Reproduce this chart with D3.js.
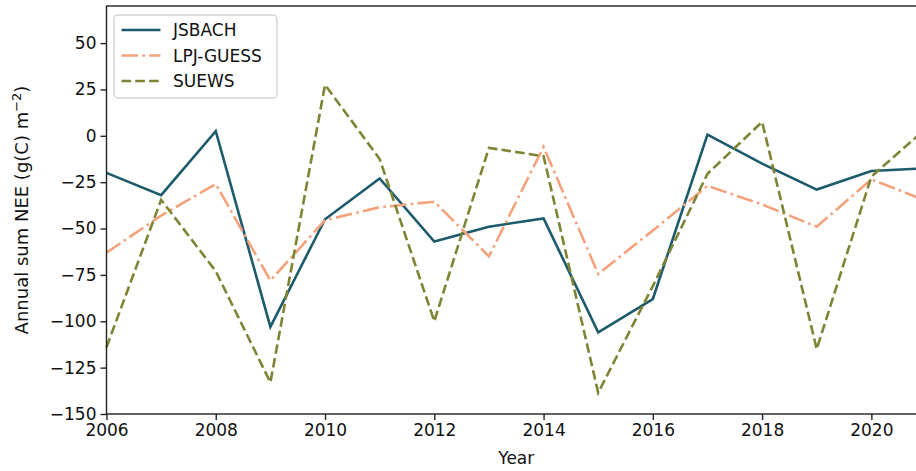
<!DOCTYPE html>
<html>
<head>
<meta charset="utf-8">
<script src="https://cdn.jsdelivr.net/npm/d3@7"></script>
<style>
  html, body { margin: 0; padding: 0; background: #fff; overflow: hidden; }
  text { font-family: "DejaVu Sans", sans-serif; fill: #111; }
</style>
</head>
<body>
<svg id="chart"></svg>
<script>
const years = [2006, 2007, 2008, 2009, 2010, 2011, 2012, 2013, 2014, 2015, 2016, 2017, 2018, 2019, 2020, 2021]
const jsbach = [-20, -32, 2.5, -103, -45, -23, -57, -49, -44.5, -106, -88, 0.7, -15, -29, -19, -17.5]
const lpjGuess = [-63, -43, -26, -78, -45.5, -38.5, -35.5, -65, -6, -74.5, -51, -27, -37, -49, -23.5, -35]
const suews = [-114, -34.5, -73, -133, 27.5, -12.5, -100, -6.5, -11, -138.5, -81, -20.5, 7.5, -115, -22, 4]
const yTicks = [-150, -125, -100, -75, -50, -25, 0, 25, 50]
const xTicks = [2006, 2008, 2010, 2012, 2014, 2016, 2018, 2020]
const seriesNames = ['JSBACH', 'LPJ-GUESS', 'SUEWS']

const W = 960, H = 471
const margin = { top: 6, right: 34, bottom: 57, left: 106.5 }
const fs = 17

const svg = d3.select('#chart').attr('width', W).attr('height', H)

const x = d3.scaleLinear().domain([2006, 2021]).range([margin.left, W - margin.right])
const y = d3.scaleLinear().domain([-150, 70]).range([H - margin.bottom, margin.top])

const series = [
  { name: seriesNames[0], values: jsbach, color: '#1c5a6c', dash: null },
  { name: seriesNames[1], values: lpjGuess, color: '#f4a27c', dash: '16.7,4.2,2.6,4.2' },
  { name: seriesNames[2], values: suews, color: '#7f8434', dash: '9.6,4.2' }
]

const line = d3.line().x((d, i) => x(years[i])).y(d => y(d))

// 画线
const g = svg.append('g')
series.forEach(s => {
  g.append('path')
    .datum(s.values)
    .attr('fill', 'none')
    .attr('stroke', s.color)
    .attr('stroke-width', 2.6)
    .attr('stroke-dasharray', s.dash)
    .attr('d', line)
})

// 坐标轴
const xAxis = svg.append('g')
  .attr('transform', 'translate(0,' + (H - margin.bottom) + ')')
  .call(d3.axisBottom(x).tickValues(xTicks).tickFormat(d3.format('d')).tickSizeOuter(0).tickSize(6).tickPadding(4))
const yAxis = svg.append('g')
  .attr('transform', 'translate(' + margin.left + ',0)')
  .call(d3.axisLeft(y).tickValues(yTicks).tickFormat(d => d < 0 ? '\u2212' + Math.abs(d) : d).tickSizeOuter(0).tickSize(6).tickPadding(4))
;[xAxis, yAxis].forEach(a => {
  a.select('.domain').remove()
  a.selectAll('.tick line').attr('stroke', '#222').attr('stroke-width', 1.4)
  a.selectAll('.tick text').attr('font-size', fs).attr('fill', '#111').attr('font-family', '"DejaVu Sans", sans-serif')
})

// 边框
svg.append('rect')
  .attr('x', margin.left).attr('y', margin.top)
  .attr('width', W - margin.right - margin.left)
  .attr('height', H - margin.bottom - margin.top)
  .attr('fill', 'none').attr('stroke', '#222').attr('stroke-width', 1.4)

// 轴标题
svg.append('text')
  .attr('x', x(2013.5) - 0).attr('y', 464)
  .attr('text-anchor', 'middle').attr('font-size', fs)
  .text('Year')

const yl = svg.append('text')
  .attr('transform', 'translate(28,' + ((margin.top + H - margin.bottom) / 2) + ') rotate(-90)')
  .attr('text-anchor', 'middle').attr('font-size', 18)
yl.append('tspan').text('Annual sum NEE (g(C) m')
yl.append('tspan').text('\u22122').attr('font-size', 13).attr('dy', -7)
yl.append('tspan').text(')').attr('dy', 7)

// 图例
const lg = svg.append('g')
lg.append('rect')
  .attr('x', 114).attr('y', 15).attr('width', 163).attr('height', 83)
  .attr('rx', 4).attr('fill', 'rgba(255,255,255,0.8)')
  .attr('stroke', '#d4d4d4').attr('stroke-width', 1.4)
series.forEach((s, i) => {
  const cy = 30 + i * 25.5
  lg.append('line')
    .attr('x1', 121.5).attr('x2', 160.5).attr('y1', cy).attr('y2', cy)
    .attr('stroke', s.color).attr('stroke-width', 2.6)
    .attr('stroke-dasharray', s.dash)
  lg.append('text')
    .attr('x', 173).attr('y', cy).attr('dy', '0.36em')
    .attr('font-size', fs)
    .text(s.name)
})
</script>
</body>
</html>
